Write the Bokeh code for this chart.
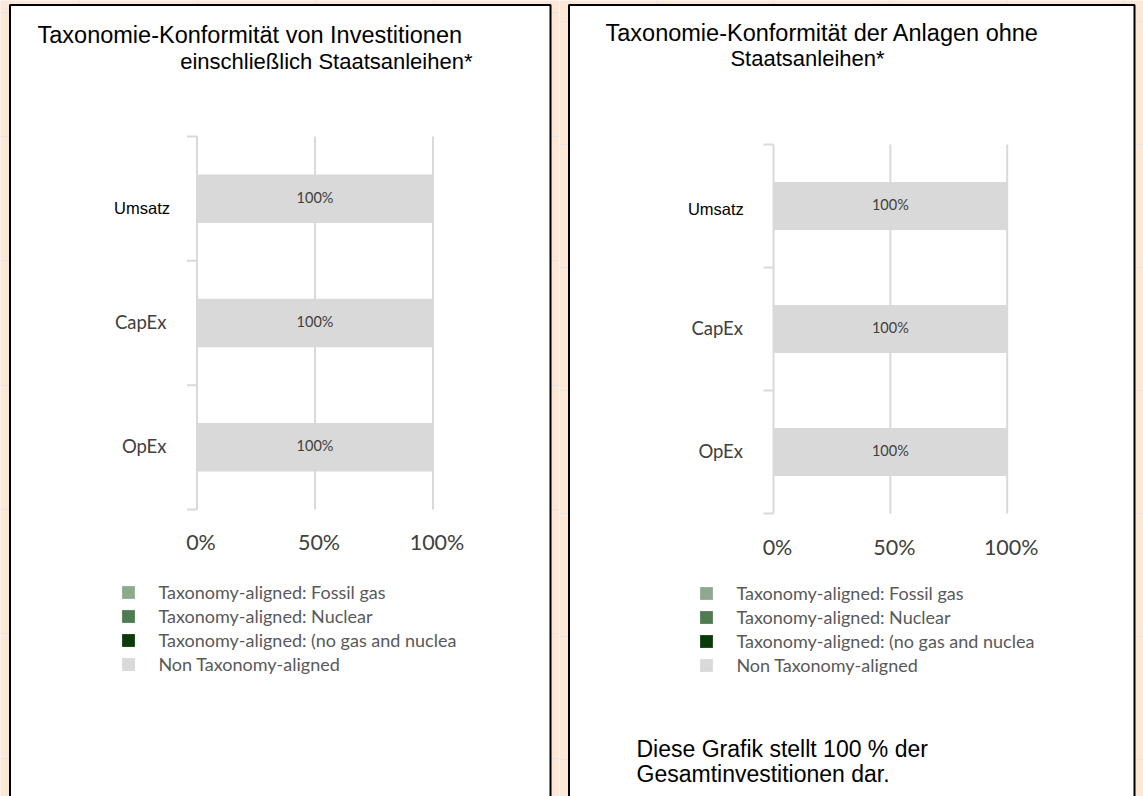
import math
from bokeh.plotting import figure
from bokeh.models import ColumnDataSource, Range1d
from bokeh.layouts import row
from bokeh.core.properties import value, field
from bokeh.embed import file_html
from bokeh.resources import INLINE

# ---------------- data ----------------
categories = ["Umsatz", "CapEx", "OpEx"]
series_keys = ["fossil", "nuclear", "aligned", "non"]
series_names = ["Taxonomy-aligned: Fossil gas",
                "Taxonomy-aligned: Nuclear",
                "Taxonomy-aligned: (no gas and nuclea",
                "Non Taxonomy-aligned"]
series_colors = ["#8FA98F", "#4E7B52", "#0A3A0A", "#D9D9D9"]

left_fossil_gas = [0, 0, 0]
left_nuclear = [0, 0, 0]
left_aligned = [0, 0, 0]
left_non_aligned = [100, 100, 100]

right_fossil_gas = [0, 0, 0]
right_nuclear = [0, 0, 0]
right_aligned = [0, 0, 0]
right_non_aligned = [100, 100, 100]

x_ticks = [0, 50, 100]
x_max = 100

left_title = ["Taxonomie-Konformität von Investitionen",
              "einschließlich Staatsanleihen*"]
right_title = ["Taxonomie-Konformität der Anlagen ohne",
               "Staatsanleihen*"]
footnote = ["Diese Grafik stellt 100 % der", "Gesamtinvestitionen dar."]

# ---------------- styles ----------------
BG = "#FBE8D6"
GRID = "#D9D9D9"
DARK = "#404040"
LEGEND_TXT = "#595959"
H = 796
TITLE_FONT = "Liberation Sans"


def make_panel(W, x_origin, box, chart, values, titles, cat_off, legend_loc,
               tick_dy, extra_texts=()):
    # chart = (x of 0%, x of 100%, top, bottom) in page pixels
    n = len(categories)
    x0p, x1p, y0p, y1p = [c - o for c, o in zip(chart, (x_origin, x_origin, 0, 0))]
    kx = (x1p - x0p) / x_max
    ky = (y1p - y0p) / n
    p = figure(width=W, height=H,
               x_range=Range1d(-x0p / kx, (W - x0p) / kx),
               y_range=Range1d(-(H - y1p) / ky, n + y0p / ky),
               x_axis_location=None, y_axis_location=None,
               min_border=0, toolbar_location=None, tools="", title=None,
               output_backend="svg")
    p.extra_x_ranges = {"px": Range1d(0, W)}
    p.extra_y_ranges = {"px": Range1d(H, 0)}
    p.border_fill_color = BG
    p.background_fill_color = BG
    p.outline_line_color = None

    # panel box
    bl, br, bt = box
    p.quad(left=[bl - x_origin], right=[br - x_origin], top=[bt], bottom=[H + 20],
           fill_color="white", line_color="black", line_width=2,
           x_range_name="px", y_range_name="px")

    ys = [n - i - 0.5 for i in range(n)]

    # grid lines + value axis line
    p.segment(x0=x_ticks, y0=[0] * len(x_ticks), x1=x_ticks, y1=[n] * len(x_ticks),
              line_color=GRID, line_width=2)
    # category boundary ticks
    bounds = list(range(n + 1))
    p.ray(x=[0] * len(bounds), y=bounds, length=10, angle=math.pi,
          length_units="screen", line_color=GRID, line_width=2)

    # stacked bars
    data = dict(y=ys)
    for k, v in zip(series_keys, values):
        data[k] = v
    src = ColumnDataSource(data)
    p.hbar_stack(series_keys, y="y", height=0.39, fill_color=series_colors,
                 line_color=None, source=src, legend_label=series_names)

    # value labels
    before = [a + b + c for a, b, c in zip(values[0], values[1], values[2])]
    lx = [b0 + v / 2 for b0, v in zip(before, values[3])]
    lt = ["%d%%" % v for v in values[3]]
    p.text(x=lx, y=ys, text=lt, text_font=value("Lato"), text_font_size="14.5px",
           text_color=DARK, text_align="center", text_baseline="middle",
           y_offset=-1.5)

    # category labels
    fonts, sizes, colors, xo, yo = [], [], [], [], []
    for c in categories:
        st = cat_off.get(c)
        if st is None:
            fonts.append("Lato"); sizes.append("18.5px"); colors.append(DARK)
            xo.append(-30.5); yo.append(-1)
        else:
            fonts.append(TITLE_FONT); sizes.append("16.5px"); colors.append("black")
            xo.append(st[0]); yo.append(st[1])
    csrc = ColumnDataSource(dict(x=[0] * n, y=ys, text=categories, font=fonts,
                                 size=sizes, color=colors, xo=xo, yo=yo))
    p.text(x="x", y="y", text="text", source=csrc, text_font=field("font"),
           text_font_size=field("size"), text_color=field("color"),
           x_offset=field("xo"), y_offset=field("yo"),
           text_align="right", text_baseline="middle")

    # value tick labels
    p.text(x=x_ticks, y=[0] * len(x_ticks), text=["%d%%" % t for t in x_ticks],
           text_font=value("Lato"), text_font_size="21.5px", text_color=DARK,
           text_align="center", text_baseline="middle", x_offset=4, y_offset=tick_dy)

    # legend
    lg = p.legend[0]
    lg.location = (legend_loc[0] - x_origin, legend_loc[1])
    lg.padding = 0
    lg.margin = 0
    lg.spacing = 2
    lg.label_height = 22
    lg.glyph_width = 16
    lg.glyph_height = 16
    lg.label_standoff = 22
    lg.label_text_font = "Lato"
    lg.label_text_font_size = "18px"
    lg.label_text_color = LEGEND_TXT
    lg.border_line_color = None
    lg.background_fill_alpha = 0

    # titles and notes, page-pixel positions
    for (cx, cy, txt, align, size) in list(titles) + list(extra_texts):
        p.text(x=[cx - x_origin], y=[cy], text=[txt], text_font=value(TITLE_FONT),
               text_font_size=size, text_color="black", text_align=align,
               text_baseline="middle", x_range_name="px", y_range_name="px")
    return p


left_values = [left_fossil_gas, left_nuclear, left_aligned, left_non_aligned]
right_values = [right_fossil_gas, right_nuclear, right_aligned, right_non_aligned]

p_left = make_panel(
    559, 0, (9.5, 550, 4.5), (196.5, 432.5, 136, 509), left_values,
    [(37, 34, left_title[0], "left", "23.5px"),
     (472, 61, left_title[1], "right", "22px")],
    {"Umsatz": (-27, 9)}, (120.4, 121), 32.7)

p_right = make_panel(
    584, 559, (568.5, 1134, 4.5), (773, 1006.7, 144, 513), right_values,
    [(605, 32, right_title[0], "left", "23.5px"),
     (807, 58, right_title[1], "center", "22px")],
    {"Umsatz": (-29.7, 3)}, (698.4, 120), 33,
    extra_texts=[(636, 748, footnote[0], "left", "23px"),
                 (636, 773, footnote[1], "left", "23px")])

layout = row(p_left, p_right)
open("out.html", "w").write(file_html(layout, INLINE, title="Taxonomie-Konformität"))
